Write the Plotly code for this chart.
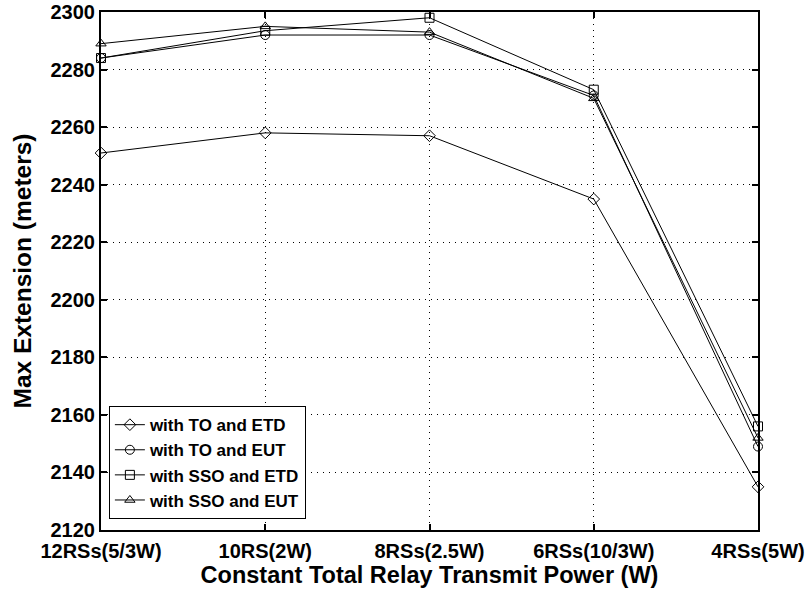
import plotly.graph_objects as go

categories = ["12RSs(5/3W)", "10RS(2W)", "8RSs(2.5W)", "6RSs(10/3W)", "4RSs(5W)"]
to_etd = [2251, 2258, 2257, 2235, 2135]
to_eut = [2284, 2292, 2292, 2271, 2149]
sso_etd = [2284, 2293.5, 2298, 2273, 2156]
sso_eut = [2289, 2295, 2293, 2270, 2152]

series = [
    ("with TO and ETD", to_etd, "diamond-open"),
    ("with TO and EUT", to_eut, "circle-open"),
    ("with SSO and ETD", sso_etd, "square-open"),
    ("with SSO and EUT", sso_eut, "triangle-up-open"),
]

fig = go.Figure()
for name, vals, sym in series:
    fig.add_trace(go.Scatter(
        x=categories, y=vals, name=name, mode="lines+markers",
        line=dict(color="black", width=1),
        marker=dict(symbol=sym, size=9, color="black", line=dict(width=1, color="black")),
        cliponaxis=False,
    ))

font = "Liberation Sans, Arial, sans-serif"
fig.update_layout(
    width=809, height=595,
    margin=dict(l=101, r=51, t=12, b=65),
    plot_bgcolor="white", paper_bgcolor="white",
    font=dict(family=font, size=16, color="black"),
    showlegend=True,
    legend=dict(
        x=0.012, y=0.021, xanchor="left", yanchor="bottom",
        bgcolor="white", bordercolor="black", borderwidth=1,
        font=dict(family=font, size=17, color="black", weight="bold"),
        tracegroupgap=0, itemwidth=30,
    ),
    xaxis=dict(
        type="category", range=[0, 4], automargin=False,
        showline=True, linecolor="black", linewidth=2, mirror="allticks",
        ticks="inside", ticklen=6, tickwidth=2, tickcolor="black",
        showgrid=True, gridcolor="black", griddash="1px,5px", gridwidth=1,
        tickfont=dict(family=font, size=20, weight="bold"),
        ticklabelstandoff=2,
        title=dict(text="<b>Constant Total Relay Transmit Power (W)</b>",
                   font=dict(family=font, size=23.5), standoff=2),
        zeroline=False,
    ),
    yaxis=dict(
        range=[2120, 2300], dtick=20, tick0=2120, automargin=False,
        showline=True, linecolor="black", linewidth=2, mirror="allticks",
        ticks="inside", ticklen=6, tickwidth=2, tickcolor="black",
        showgrid=True, gridcolor="black", griddash="1px,5px", gridwidth=1,
        tickfont=dict(family=font, size=20, weight="bold"),
        title=dict(text="<b>Max Extension (meters)</b>",
                   font=dict(family=font, size=24.5), standoff=12),
        zeroline=False,
    ),
)

fig.write_html("out.html")
